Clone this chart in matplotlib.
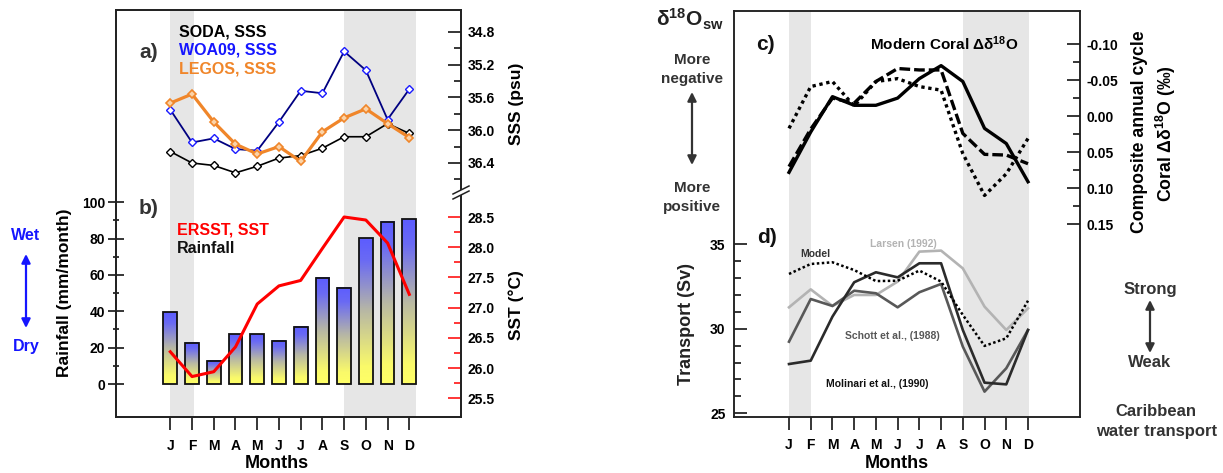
import numpy as np
import matplotlib
matplotlib.use("Agg")
import matplotlib.pyplot as plt
from matplotlib.colors import LinearSegmentedColormap
from matplotlib.ticker import FixedLocator, FormatStrFormatter
from matplotlib.lines import Line2D
from matplotlib.patches import Polygon

plt.rcParams['font.family'] = ['Liberation Sans', 'DejaVu Sans']
plt.rcParams['font.weight'] = 'bold'
plt.rcParams['mathtext.fontset'] = 'custom'
plt.rcParams['mathtext.rm'] = 'Liberation Sans'
plt.rcParams['mathtext.bf'] = 'Liberation Sans:bold'
plt.rcParams['mathtext.it'] = 'Liberation Sans:italic'
plt.rcParams['axes.linewidth'] = 1.1
plt.rcParams['axes.edgecolor'] = '#222222'

# ---------------- data ----------------
months = ['J', 'F', 'M', 'A', 'M', 'J', 'J', 'A', 'S', 'O', 'N', 'D']

sss_soda = [36.26, 36.40, 36.43, 36.52, 36.44, 36.34, 36.31, 36.22, 36.08, 36.08, 35.92, 36.04]
sss_woa09 = [35.75, 36.15, 36.10, 36.23, 36.25, 35.90, 35.52, 35.55, 35.04, 35.27, 35.87, 35.50]
sss_legos = [35.67, 35.56, 35.90, 36.17, 36.29, 36.20, 36.38, 36.02, 35.85, 35.74, 35.92, 36.09]

rainfall = [39.5, 22.6, 12.8, 27.3, 27.3, 23.9, 31.5, 58.6, 53.0, 80.3, 89.4, 90.6]
sst_ersst = [26.27, 25.86, 25.94, 26.35, 27.06, 27.36, 27.45, 27.98, 28.50, 28.45, 28.07, 27.22]

coral_solid = [0.078, 0.022, -0.027, -0.015, -0.015, -0.025, -0.052, -0.070, -0.048, 0.017, 0.038, 0.091]
coral_dashed = [0.070, 0.018, -0.025, -0.018, -0.048, -0.066, -0.064, -0.064, 0.024, 0.053, 0.054, 0.066]
coral_dotted = [0.017, -0.041, -0.048, -0.014, -0.048, -0.052, -0.041, -0.036, 0.052, 0.110, 0.080, 0.031]

tr_larsen = [31.26, 32.32, 31.34, 31.99, 31.99, 32.78, 34.55, 34.61, 33.56, 31.30, 29.92, 31.20]
tr_model = [33.23, 33.82, 33.92, 33.46, 32.81, 32.83, 33.43, 32.78, 30.81, 28.98, 29.43, 31.65]
tr_molinari = [27.91, 28.11, 30.71, 32.74, 33.33, 33.03, 33.86, 33.86, 29.92, 26.81, 26.71, 29.92]
tr_schott = [29.23, 31.75, 31.34, 32.24, 32.09, 31.26, 32.15, 32.64, 28.94, 26.28, 27.66, 29.92]

# ---------------- layout helpers (pixel space of the 1223x473 canvas) ----------------
W, H = 1223, 473
fig = plt.figure(figsize=(W / 100, H / 100), dpi=100)


def fp(x, y):
    return x / W, 1 - y / H


def rect(l, t, r, b):
    return [l / W, 1 - b / H, (r - l) / W, (b - t) / H]


def lim_from(v0, p0, v1, p1, top, bottom):
    k = (v1 - v0) / (p1 - p0)
    return v0 + (bottom - p0) * k, v0 + (top - p0) * k


def txt(x, y, s, size=11, color='black', ha='center', va='center', **kw):
    fig.text(*fp(x, y), s, fontsize=size, color=color, ha=ha, va=va, **kw)


def arrow(x, y0, y1, color):
    fig.add_artist(matplotlib.patches.FancyArrowPatch(
        fp(x, y0), fp(x, y1), transform=fig.transFigure, arrowstyle='<|-|>',
        mutation_scale=13, lw=1.6, color=color, shrinkA=0, shrinkB=0))


xm = np.arange(12)
shade = '#e6e6e6'

# ================= left panel (a, b) =================
L, R, T, B = 116, 461, 10, 417
ax_b = fig.add_axes(rect(L, T, R, B))
xk = 11 / (409.3 - 170.3)
xlim_left = ((L - 170.3) * xk, (R - 170.3) * xk)

ax_b.axvspan(0, 1.1, color=shade, lw=0, zorder=0)
ax_b.axvspan(8, 11.3, color=shade, lw=0, zorder=0)

cmap = LinearSegmentedColormap.from_list(
    'rain', [(0, '#ffff66'), (0.12, '#fafa6a'), (0.5, '#b8b8a4'), (0.85, '#6a6af4'), (1, '#5c5cff')])
grad = np.linspace(0, 1, 256).reshape(-1, 1)
bars = ax_b.bar(xm, rainfall, width=0.63, facecolor='none', edgecolor='#111111', lw=1.3, zorder=3)
for b in bars:
    x0, y0, w, h = b.get_x(), b.get_y(), b.get_width(), b.get_height()
    ax_b.imshow(grad, extent=(x0, x0 + w, y0, y0 + h), origin='lower', aspect='auto',
                cmap=cmap, zorder=2, interpolation='bilinear')

ax_b.set_xlim(*xlim_left)
ax_b.set_ylim(*lim_from(0, 384, 100, 202.3, T, B))
ax_b.set_xticks(xm, months)
ax_b.set_yticks([0, 20, 40, 60, 80, 100])
ax_b.yaxis.set_minor_locator(FixedLocator([10, 30, 50, 70, 90]))
ax_b.tick_params(axis='x', direction='out', length=9.5, width=1.1, pad=6, labelsize=10)
ax_b.tick_params(axis='y', which='major', direction='inout', length=12, width=1.1, pad=2, labelsize=10)
ax_b.tick_params(axis='y', which='minor', direction='inout', length=5, width=1.1)

ax_sst = ax_b.twinx()
ax_sst.set_ylim(*lim_from(25.5, 398.3, 28.5, 217, T, B))
ax_sst.set_yticks(np.arange(25.5, 28.51, 0.5))
ax_sst.yaxis.set_minor_locator(FixedLocator(np.arange(25.75, 28.3, 0.5)))
ax_sst.yaxis.set_major_formatter(FormatStrFormatter('%.1f'))
ax_sst.tick_params(axis='y', which='major', direction='in', length=9.5, width=1.1, color='red',
                   labelcolor='black', pad=5, labelsize=10)
ax_sst.tick_params(axis='y', which='minor', direction='in', length=5, width=1.1, color='red')
ax_sst.plot(xm, sst_ersst, color='red', lw=2.2, zorder=4)

ax_sss = ax_b.twinx()
ax_sss.set_ylim(*lim_from(34.8, 31.7, 36.4, 163, T, B))
ax_sss.set_yticks(np.arange(34.8, 36.41, 0.4))
ax_sss.yaxis.set_minor_locator(FixedLocator(np.arange(35.0, 36.61, 0.4)))
ax_sss.yaxis.set_major_formatter(FormatStrFormatter('%.1f'))
ax_sss.tick_params(axis='y', which='major', direction='in', length=9.5, width=1.1, pad=5, labelsize=10)
ax_sss.tick_params(axis='y', which='minor', direction='in', length=5, width=1.1)
ax_sss.plot(xm, sss_soda, color='black', lw=1.2, marker='D', ms=4.2, mfc='white', mec='black', mew=1.0)
ax_sss.plot(xm, sss_woa09, color='#000080', lw=1.3, marker='D', ms=4.2, mfc='white', mec='#1a1aff', mew=1.0)
ax_sss.plot(xm, sss_legos, color='#f0862a', lw=2.3, marker='D', ms=4.5, mfc='#fbd3a8', mec='#f0862a', mew=1.2)

# axis break on the right spine
bx0, bx1 = 453, 469
fig.add_artist(Polygon([fp(bx0, 194), fp(bx1, 186), fp(bx1, 191), fp(bx0, 199)], closed=True,
                       transform=fig.transFigure, facecolor='white', edgecolor='none', zorder=5))
for yo in (0, 5):
    fig.add_artist(Line2D([bx0 / W, bx1 / W], [1 - (194 + yo) / H, 1 - (186 + yo) / H],
                          transform=fig.transFigure, color='#222222', lw=1.1, zorder=6))

txt(149, 52, 'a)', size=15, color='#333333')
txt(179, 32, 'SODA, SSS', size=11.5, ha='left')
txt(179, 50, 'WOA09, SSS', size=11.5, color='#1515ff', ha='left')
txt(179, 69, 'LEGOS, SSS', size=11.5, color='#f0862a', ha='left')
txt(149, 208, 'b)', size=15, color='#333333')
txt(177, 230, 'ERSST, SST', size=11.5, color='red', ha='left')
txt(177, 248, 'Rainfall', size=11.5, color='#111111', ha='left')
txt(26, 235, 'Wet', size=11.5, color='#1515ff')
arrow(26, 254, 328, '#1515ff')
txt(26, 346, 'Dry', size=11.5, color='#1515ff')
txt(65, 293, 'Rainfall (mm/month)', size=12.5, rotation=90)
txt(516, 104, 'SSS (psu)', size=12.5, rotation=90)
txt(516, 305, 'SST (°C)', size=12.5, rotation=90)
txt(277, 463, 'Months', size=13)

# ================= right panel (c, d) =================
L2, R2, T2, B2 = 734, 1080, 10.7, 416.7
ax_d = fig.add_axes(rect(L2, T2, R2, B2))
xk2 = 11 / (1028 - 789)
ax_d.axvspan(0, 1, color=shade, lw=0, zorder=0)
ax_d.axvspan(8, 11.05, color=shade, lw=0, zorder=0)
ax_d.plot(xm, tr_larsen, color='#b3b3b3', lw=1.9)
ax_d.plot(xm, tr_schott, color='#585858', lw=1.9)
ax_d.plot(xm, tr_molinari, color='#2b2b2b', lw=1.9)
ax_d.plot(xm, tr_model, color='black', lw=1.8, ls=(0, (1, 1)))
ax_d.set_xlim((L2 - 789) * xk2, (R2 - 789) * xk2)
ax_d.set_ylim(*lim_from(25, 413.3, 35, 244, T2, B2))
ax_d.set_xticks(xm, months)
ax_d.set_yticks([25, 30, 35])
ax_d.yaxis.set_minor_locator(FixedLocator([26, 27, 28, 29, 31, 32, 33, 34]))
ax_d.tick_params(axis='x', direction='out', length=9.5, width=1.1, pad=6, labelsize=10)
ax_d.tick_params(axis='y', which='major', direction='in', length=9.5, width=1.1, pad=6, labelsize=10)
ax_d.tick_params(axis='y', which='minor', direction='in', length=5, width=1.1)

ax_c = ax_d.twinx()
ax_c.set_ylim(*lim_from(-0.10, 44, 0.15, 224.3, T2, B2))
ax_c.set_yticks(np.arange(-0.10, 0.151, 0.05))
ax_c.yaxis.set_minor_locator(FixedLocator(np.arange(-0.075, 0.13, 0.05)))
ax_c.yaxis.set_major_formatter(FormatStrFormatter('%.2f'))
ax_c.tick_params(axis='y', which='major', direction='in', length=9.5, width=1.1, pad=5, labelsize=10)
ax_c.tick_params(axis='y', which='minor', direction='in', length=5, width=1.1)
ax_c.plot(xm, coral_dotted, color='black', lw=2.4, ls=(0, (1, 1.1)))
ax_c.plot(xm, coral_dashed, color='black', lw=2.4, ls=(0, (3.2, 1.2)))
ax_c.plot(xm, coral_solid, color='black', lw=2.4)

txt(690, 19, r'$\mathrm{\delta}^{\mathbf{18}}\mathbf{O}_{\mathbf{sw}}$', size=15, weight='normal', color='#222222')
txt(692, 60, 'More', size=11, color='#333333')
txt(692, 79, 'negative', size=11, color='#333333')
arrow(692, 92, 165, '#333333')
txt(692, 188, 'More', size=11, color='#333333')
txt(692, 207, 'positive', size=11, color='#333333')
txt(686, 324, 'Transport (Sv)', size=13, rotation=90, color='#222222')
txt(765, 44, 'c)', size=15, color='#111111')
txt(944, 44, r'Modern Coral $\mathrm{\Delta\delta}^{\mathbf{18}}$O', size=11)
txt(1139, 132, 'Composite annual cycle', size=12.7, rotation=90)
txt(1166, 134, r'Coral $\mathrm{\Delta\delta}^{\mathbf{18}}$O (‰)', size=12.7, rotation=90)
txt(767, 237, 'd)', size=15, color='#111111')
txt(903, 244, 'Larsen (1992)', size=7.5, color='#b3b3b3')
txt(800, 254, 'Model', size=7.5, color='#333333', ha='left')
txt(892, 336, 'Schott et al., (1988)', size=7.5, color='#585858')
txt(877, 384, 'Molinari et al., (1990)', size=7.5, color='#111111')
txt(1150, 289, 'Strong', size=12, color='#333333')
arrow(1150, 300, 353, '#333333')
txt(1150, 362, 'Weak', size=12, color='#333333')
txt(1156, 411, 'Caribbean', size=12, color='#333333')
txt(1157, 431, 'water transport', size=12, color='#333333')
txt(897, 463, 'Months', size=13)

fig.savefig('out.png', dpi=100)
